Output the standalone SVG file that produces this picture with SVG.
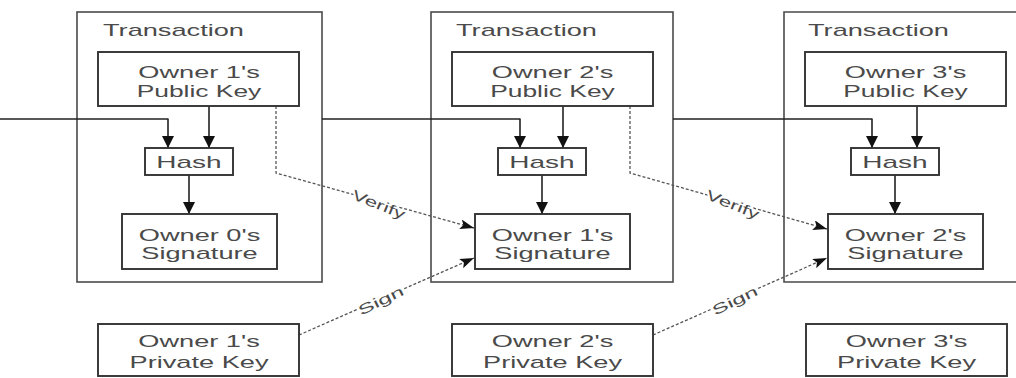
<svg xmlns="http://www.w3.org/2000/svg" width="1016" height="378" viewBox="0 0 1016 378">
<style>
.tx{fill:none;stroke:#4a4a4a;stroke-width:1.6}
.nd{fill:#fff;stroke:#333;stroke-width:1.9}
.t{font-family:"Liberation Sans",Arial,sans-serif;font-size:16px;fill:#4a4a4a;text-anchor:middle}
.tl{font-family:"Liberation Sans",Arial,sans-serif;font-size:16px;fill:#4a4a4a}
.lb{font-family:"Liberation Sans",Arial,sans-serif;font-size:14px;fill:#4a4a4a;text-anchor:middle;stroke:#fff;stroke-width:3;paint-order:stroke}
.c{fill:none;stroke:#222;stroke-width:1.6;stroke-linejoin:round}
.d{fill:none;stroke:#555;stroke-width:1.3;stroke-dasharray:3 2}
</style>
<defs>
<marker id="ah" viewBox="0 0 10 10" refX="10" refY="5" markerWidth="12" markerHeight="12" markerUnits="userSpaceOnUse" orient="auto"><path d="M0,0 L10,5 L0,10 z" fill="#111"/></marker>
<marker id="ad" viewBox="0 0 14 10" refX="14" refY="5" markerWidth="15" markerHeight="10" markerUnits="userSpaceOnUse" orient="auto"><path d="M0,0 L14,5 L0,10 L3,5 z" fill="#111"/></marker>
</defs>
<rect width="1016" height="378" fill="#fff"/>

<g id="tx1"><rect class="tx" x="77" y="12" width="245" height="270"/><text class="tl" transform="translate(103,36) scale(1.7,1)">Transaction</text></g>
<g id="tx2"><rect class="tx" x="431" y="12" width="242" height="270"/><text class="tl" transform="translate(456,36) scale(1.7,1)">Transaction</text></g>
<g id="tx3"><path class="tx" d="M1017,12 H784 V282 H1017"/><text class="tl" transform="translate(808,36) scale(1.7,1)">Transaction</text></g>

<g id="connectors">
<path class="c" d="M0,119 H168 V148" marker-end="url(#ah)"/>
<path class="c" d="M209,106 V148" marker-end="url(#ah)"/>
<path class="c" d="M189,175 V214" marker-end="url(#ah)"/>
<path class="c" d="M322,119 H520 V148" marker-end="url(#ah)"/>
<path class="c" d="M563,106 V148" marker-end="url(#ah)"/>
<path class="c" d="M542,175 V214" marker-end="url(#ah)"/>
<path class="c" d="M673,119 H872 V148" marker-end="url(#ah)"/>
<path class="c" d="M917,106 V148" marker-end="url(#ah)"/>
<path class="c" d="M895,175 V214" marker-end="url(#ah)"/>
<path class="d" d="M276,106 V173 L474,228" marker-end="url(#ad)"/>
<path class="d" d="M630,106 V173 L827,229" marker-end="url(#ad)"/>
<path class="d" d="M299,335 L474,258" marker-end="url(#ad)"/>
<path class="d" d="M653,335 L827,258" marker-end="url(#ad)"/>
<text class="lb" transform="translate(377,209) rotate(22) scale(1.6,1)">Verify</text>
<text class="lb" transform="translate(731,209) rotate(22) scale(1.6,1)">Verify</text>
<text class="lb" transform="translate(383,305) rotate(-26) scale(1.75,1)">Sign</text>
<text class="lb" transform="translate(737,305) rotate(-26) scale(1.75,1)">Sign</text>
</g>

<g id="pub1"><rect class="nd" x="98" y="52" width="201" height="54"/><text class="t" transform="translate(199,78) scale(1.7,1)">Owner 1's</text><text class="t" transform="translate(199,97) scale(1.65,1)">Public Key</text></g>
<g id="hash1"><rect class="nd" x="145" y="148" width="88" height="27"/><text class="t" transform="translate(189,168) scale(1.75,1)">Hash</text></g>
<g id="sig0"><rect class="nd" x="122" y="214" width="155" height="55"/><text class="t" transform="translate(199.5,241) scale(1.7,1)">Owner 0's</text><text class="t" transform="translate(199.5,259) scale(1.7,1)">Signature</text></g>
<g id="priv1"><rect class="nd" x="98" y="324" width="201" height="52"/><text class="t" transform="translate(199,347) scale(1.7,1)">Owner 1's</text><text class="t" transform="translate(199,368) scale(1.7,1)">Private Key</text></g>

<g id="pub2"><rect class="nd" x="452" y="52" width="201" height="54"/><text class="t" transform="translate(552.5,78) scale(1.7,1)">Owner 2's</text><text class="t" transform="translate(552.5,97) scale(1.65,1)">Public Key</text></g>
<g id="hash2"><rect class="nd" x="498" y="148" width="88" height="27"/><text class="t" transform="translate(542,168) scale(1.75,1)">Hash</text></g>
<g id="sig1"><rect class="nd" x="475" y="214" width="155" height="55"/><text class="t" transform="translate(552.5,241) scale(1.7,1)">Owner 1's</text><text class="t" transform="translate(552.5,259) scale(1.7,1)">Signature</text></g>
<g id="priv2"><rect class="nd" x="452" y="324" width="201" height="52"/><text class="t" transform="translate(552.5,347) scale(1.7,1)">Owner 2's</text><text class="t" transform="translate(552.5,368) scale(1.7,1)">Private Key</text></g>

<g id="pub3"><rect class="nd" x="805" y="52" width="201" height="54"/><text class="t" transform="translate(905.5,78) scale(1.7,1)">Owner 3's</text><text class="t" transform="translate(905.5,97) scale(1.65,1)">Public Key</text></g>
<g id="hash3"><rect class="nd" x="851" y="148" width="88" height="27"/><text class="t" transform="translate(895,168) scale(1.75,1)">Hash</text></g>
<g id="sig2"><rect class="nd" x="828" y="214" width="155" height="55"/><text class="t" transform="translate(905.5,241) scale(1.7,1)">Owner 2's</text><text class="t" transform="translate(905.5,259) scale(1.7,1)">Signature</text></g>
<g id="priv3"><rect class="nd" x="806" y="324" width="201" height="52"/><text class="t" transform="translate(906.5,347) scale(1.7,1)">Owner 3's</text><text class="t" transform="translate(906.5,368) scale(1.7,1)">Private Key</text></g>
</svg>
